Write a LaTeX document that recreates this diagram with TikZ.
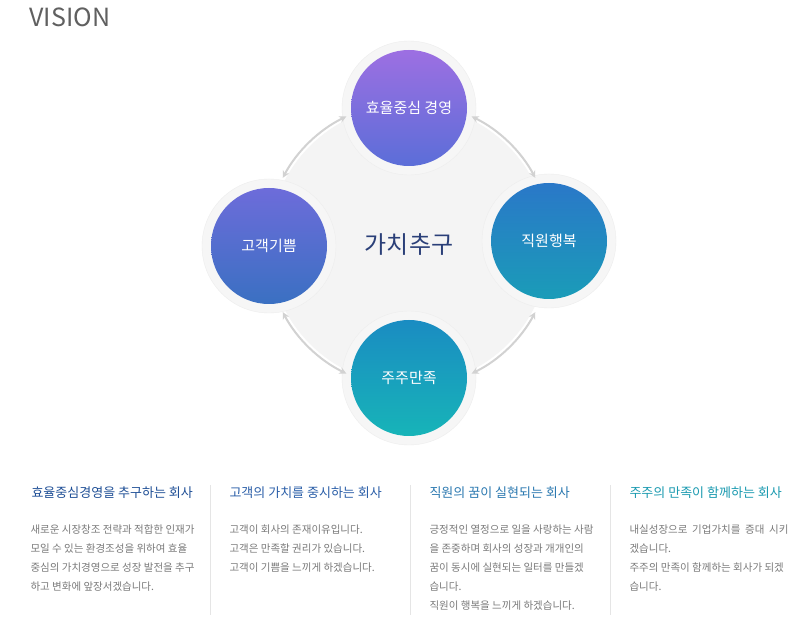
\documentclass[tikz,border=0pt]{standalone}
\usepackage{fontspec}
\setmainfont{Noto Sans CJK KR}
\usetikzlibrary{arrows.meta,positioning}
\definecolor{titleA}{HTML}{1F4F96}
\definecolor{titleB}{HTML}{2A5EA8}
\definecolor{titleC}{HTML}{2A78B0}
\definecolor{titleD}{HTML}{1A9AB0}
\definecolor{bodygray}{HTML}{7A7A7A}
\definecolor{navy}{HTML}{2A3F78}
\definecolor{topA}{HTML}{9D6FE2}
\definecolor{topB}{HTML}{5B6ED8}
\definecolor{leftA}{HTML}{6D6CDA}
\definecolor{leftB}{HTML}{3A70C2}
\definecolor{rightA}{HTML}{2A78C8}
\definecolor{rightB}{HTML}{1A9CB8}
\definecolor{botA}{HTML}{1A8CC2}
\definecolor{botB}{HTML}{17B4B8}
\begin{document}
\begin{tikzpicture}[x=1pt,y=-1pt]

        \def\r{143}

        % Styles for the value circles and the text below
        \tikzset{
            halo/.style={circle, minimum size=134pt, fill=gray!7, draw=gray!14},
            value/.style={circle, minimum size=116pt, inner sep=0pt, text=white,
                font=\fontsize{15}{18}\selectfont},
            cycle/.style={gray!35, line width=2pt, {Stealth[length=7pt,width=7pt]}-{Stealth[length=7pt,width=7pt]}},
            coltitle/.style={anchor=west, font=\fontsize{13}{16}\selectfont},
            colbody/.style={anchor=north west, align=left, text=bodygray,
                font=\fontsize{10.5}{19}\selectfont},
            divider/.style={gray!20, line width=0.6pt}
        }

        \useasboundingbox[fill=white] (0,0) rectangle (807,631);
        \node[anchor=west, text=gray!75!black, font=\fontsize{25}{28}\selectfont] (V) at (26,17) {VISION};

        % Background disk and rings
        \fill[gray!9] (409,245) circle (140);
        \node (C) at (409,245) {};
        \foreach \p in {(409,108),(269,246),(549,241),(409,378)}
            \node[halo] at \p {};

        \begin{scope}
            \node[value, top color=topA, bottom color=topB] (Top) at (409,108) {효율중심 경영};
            \node[value, top color=leftA, bottom color=leftB] (Left) at (269,246) {고객기쁨};
            \node[value, top color=rightA, bottom color=rightB] (Right) at (549,241) {직원행복};
            \node[value, top color=botA, bottom color=botB] (Bottom) at (409,378) {주주만족};
            \node[text=navy, font=\fontsize{24}{28}\selectfont] (Center) at (409,245) {가치추구};
        \end{scope}

        \begin{scope}
            \draw[cycle] (C.center) ++(-64:\r) arc[start angle=-64, end angle=-28, radius=\r];
            \draw[cycle] (C.center) ++(28:\r) arc[start angle=28, end angle=64, radius=\r];
            \draw[cycle] (C.center) ++(116:\r) arc[start angle=116, end angle=152, radius=\r];
            \draw[cycle] (C.center) ++(208:\r) arc[start angle=208, end angle=244, radius=\r];
        \end{scope}

        % Columns
        \node[coltitle, text=titleA] (T1) at (28,493) {효율중심경영을 추구하는 회사};
        \node[coltitle, text=titleB] (T2) at (226,493) {고객의 가치를 중시하는 회사};
        \node[coltitle, text=titleC] (T3) at (426,493) {직원의 꿈이 실현되는 회사};
        \node[coltitle, text=titleD] (T4) at (626,493) {주주의 만족이 함께하는 회사};

        \node[colbody] (B1) at (27,521) {새로운 시장창조 전략과 적합한 인재가\\모일 수 있는 환경조성을 위하여 효율\\중심의 가치경영으로 성장 발전을 추구\\하고 변화에 앞장서겠습니다.};
        \node[colbody] (B2) at (226,521) {고객이 회사의 존재이유입니다.\\고객은 만족할 권리가 있습니다.\\고객이 기쁨을 느끼게 하겠습니다.};
        \node[colbody] (B3) at (426,521) {긍정적인 열정으로 일을 사랑하는 사람\\을 존중하며 회사의 성장과 개개인의\\꿈이 동시에 실현되는 일터를 만들겠\\습니다.\\직원이 행복을 느끼게 하겠습니다.};
        \node[colbody] (B4) at (626,521) {내실성장으로 \ 기업가치를 \ 증대 \ 시키\\겠습니다.\\주주의 만족이 함께하는 회사가 되겠\\습니다.};

        \foreach \x in {210,410,610}
            \draw[divider] (\x,485) -- (\x,615);

\end{tikzpicture}
\end{document}
